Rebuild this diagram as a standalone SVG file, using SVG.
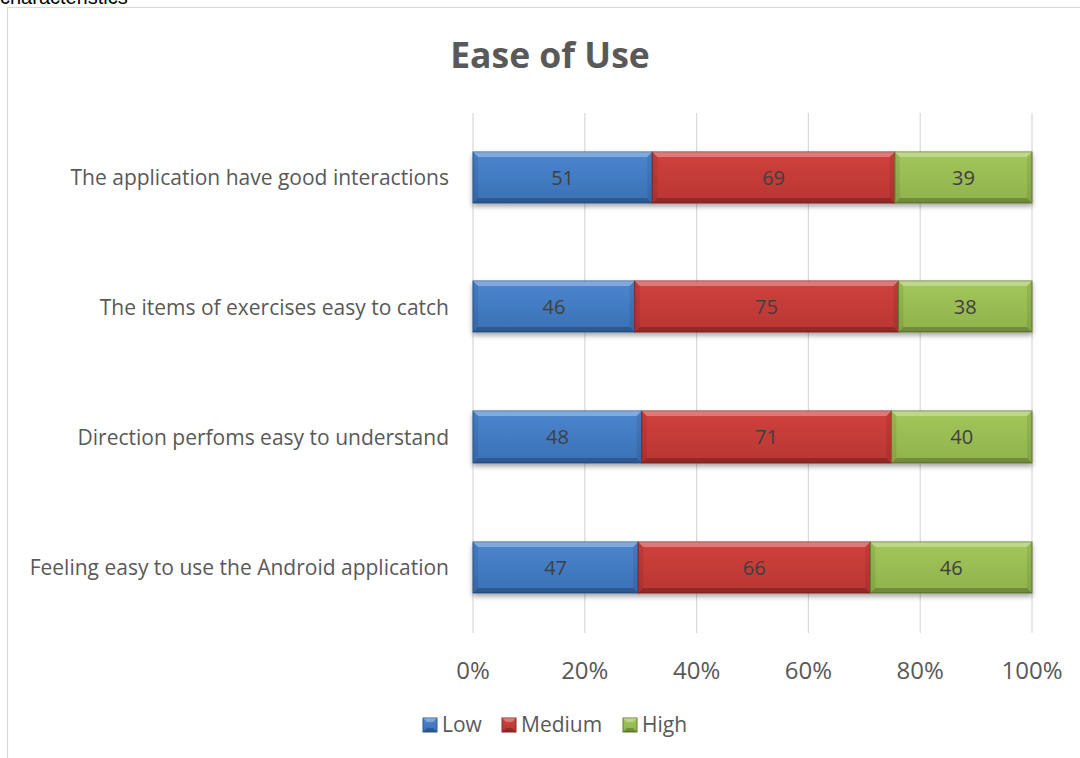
<svg xmlns="http://www.w3.org/2000/svg" width="1080" height="758" viewBox="0 0 1080 758">
  <defs>
    <filter id="shadow" x="-5%" y="-20%" width="110%" height="160%">
      <feDropShadow dx="0" dy="3" stdDeviation="2.5" flood-color="#000" flood-opacity="0.35"/>
    </filter>
    <linearGradient id="gLow" x1="0" y1="0" x2="0" y2="1">
      <stop offset="0" stop-color="#4c86cf"/>
      <stop offset="1" stop-color="#3a70b5"/>
    </linearGradient>
    <linearGradient id="gMed" x1="0" y1="0" x2="0" y2="1">
      <stop offset="0" stop-color="#d0413d"/>
      <stop offset="1" stop-color="#b83633"/>
    </linearGradient>
    <linearGradient id="gHigh" x1="0" y1="0" x2="0" y2="1">
      <stop offset="0" stop-color="#a3c75a"/>
      <stop offset="1" stop-color="#8fb24c"/>
    </linearGradient>
  </defs>
  <style>
    .txt { font-family: "Open Sans", "Liberation Sans", sans-serif; fill: #595959; }
    .title { font-size: 35.5px; font-weight: bold; }
    .cat { font-size: 21px; text-anchor: end; }
    .axis { font-size: 24px; text-anchor: middle; }
    .val { font-size: 20px; text-anchor: middle; fill: #404040; }
    .leg { font-size: 21px; }
    .grid { stroke: #d9d9d9; stroke-width: 1.2; }
    .low { fill: url(#gLow); stroke: #2c5a93; stroke-width: 1; }
    .med { fill: url(#gMed); stroke: #8f2624; stroke-width: 1; }
    .high { fill: url(#gHigh); stroke: #627f2e; stroke-width: 1; }
    .bt { fill: #ffffff; fill-opacity: 0.3; }
    .bb { fill: #000000; fill-opacity: 0.22; }
    .bs { fill: #000000; fill-opacity: 0.08; }
  </style>

  <rect width="1080" height="758" fill="#ffffff"/>
  <text x="0" y="4" font-family="Liberation Sans, Arial, sans-serif" font-size="20" fill="#000000">characteristics</text>
  <rect x="7.5" y="7.5" width="1100" height="800" fill="none" stroke="#d9d9d9" stroke-width="1.2"/>

  <text class="txt title" x="550" y="68" text-anchor="middle">Ease of Use</text>

  <!-- vertical gridlines -->
  <g id="gridlines">
    <line class="grid" x1="473" y1="113" x2="473" y2="633"/>
    <line class="grid" x1="584.8" y1="113" x2="584.8" y2="633"/>
    <line class="grid" x1="696.6" y1="113" x2="696.6" y2="633"/>
    <line class="grid" x1="808.4" y1="113" x2="808.4" y2="633"/>
    <line class="grid" x1="920.2" y1="113" x2="920.2" y2="633"/>
    <line class="grid" x1="1032" y1="113" x2="1032" y2="633"/>
  </g>

  <!-- category labels -->
  <g id="categories">
    <text class="txt cat" x="449" y="185">The application have good interactions</text>
    <text class="txt cat" x="449" y="315">The items of exercises easy to catch</text>
    <text class="txt cat" x="449" y="445">Direction perfoms easy to understand</text>
    <text class="txt cat" x="449" y="575">Feeling easy to use the Android application</text>
  </g>

  <!-- row 1: 51 / 69 / 39 -->
  <g id="row1" filter="url(#shadow)">
    <rect class="low" x="473" y="152" width="179.3" height="51"/>
    <polygon class="bt" points="473,152 652.3,152 647.3,157 478,157"/>
    <polygon class="bb" points="473,203 652.3,203 647.3,198 478,198"/>
    <polygon class="bs" points="473,152 478,157 478,198 473,203"/>
    <polygon class="bs" points="652.3,152 647.3,157 647.3,198 652.3,203"/>
    <rect class="med" x="652.3" y="152" width="242.6" height="51"/>
    <polygon class="bt" points="652.3,152 894.9,152 889.9,157 657.3,157"/>
    <polygon class="bb" points="652.3,203 894.9,203 889.9,198 657.3,198"/>
    <polygon class="bs" points="652.3,152 657.3,157 657.3,198 652.3,203"/>
    <polygon class="bs" points="894.9,152 889.9,157 889.9,198 894.9,203"/>
    <rect class="high" x="894.9" y="152" width="137.1" height="51"/>
    <polygon class="bt" points="894.9,152 1032,152 1027,157 899.9,157"/>
    <polygon class="bb" points="894.9,203 1032,203 1027,198 899.9,198"/>
    <polygon class="bs" points="894.9,152 899.9,157 899.9,198 894.9,203"/>
    <polygon class="bs" points="1032,152 1027,157 1027,198 1032,203"/>
  </g>
  <g id="row1-values">
    <text class="txt val" x="562.6" y="185">51</text>
    <text class="txt val" x="773.6" y="185">69</text>
    <text class="txt val" x="963.5" y="185">39</text>
  </g>

  <!-- row 2: 46 / 75 / 38 -->
  <g id="row2" filter="url(#shadow)">
    <rect class="low" x="473" y="281" width="161.7" height="51"/>
    <polygon class="bt" points="473,281 634.7,281 629.7,286 478,286"/>
    <polygon class="bb" points="473,332 634.7,332 629.7,327 478,327"/>
    <polygon class="bs" points="473,281 478,286 478,327 473,332"/>
    <polygon class="bs" points="634.7,281 629.7,286 629.7,327 634.7,332"/>
    <rect class="med" x="634.7" y="281" width="263.7" height="51"/>
    <polygon class="bt" points="634.7,281 898.4,281 893.4,286 639.7,286"/>
    <polygon class="bb" points="634.7,332 898.4,332 893.4,327 639.7,327"/>
    <polygon class="bs" points="634.7,281 639.7,286 639.7,327 634.7,332"/>
    <polygon class="bs" points="898.4,281 893.4,286 893.4,327 898.4,332"/>
    <rect class="high" x="898.4" y="281" width="133.6" height="51"/>
    <polygon class="bt" points="898.4,281 1032,281 1027,286 903.4,286"/>
    <polygon class="bb" points="898.4,332 1032,332 1027,327 903.4,327"/>
    <polygon class="bs" points="898.4,281 903.4,286 903.4,327 898.4,332"/>
    <polygon class="bs" points="1032,281 1027,286 1027,327 1032,332"/>
  </g>
  <g id="row2-values">
    <text class="txt val" x="553.9" y="314">46</text>
    <text class="txt val" x="766.5" y="314">75</text>
    <text class="txt val" x="965.2" y="314">38</text>
  </g>

  <!-- row 3: 48 / 71 / 40 -->
  <g id="row3" filter="url(#shadow)">
    <rect class="low" x="473" y="411" width="168.7" height="52"/>
    <polygon class="bt" points="473,411 641.7,411 636.7,416 478,416"/>
    <polygon class="bb" points="473,463 641.7,463 636.7,458 478,458"/>
    <polygon class="bs" points="473,411 478,416 478,458 473,463"/>
    <polygon class="bs" points="641.7,411 636.7,416 636.7,458 641.7,463"/>
    <rect class="med" x="641.7" y="411" width="249.7" height="52"/>
    <polygon class="bt" points="641.7,411 891.4,411 886.4,416 646.7,416"/>
    <polygon class="bb" points="641.7,463 891.4,463 886.4,458 646.7,458"/>
    <polygon class="bs" points="641.7,411 646.7,416 646.7,458 641.7,463"/>
    <polygon class="bs" points="891.4,411 886.4,416 886.4,458 891.4,463"/>
    <rect class="high" x="891.4" y="411" width="140.6" height="52"/>
    <polygon class="bt" points="891.4,411 1032,411 1027,416 896.4,416"/>
    <polygon class="bb" points="891.4,463 1032,463 1027,458 896.4,458"/>
    <polygon class="bs" points="891.4,411 896.4,416 896.4,458 891.4,463"/>
    <polygon class="bs" points="1032,411 1027,416 1027,458 1032,463"/>
  </g>
  <g id="row3-values">
    <text class="txt val" x="557.4" y="444">48</text>
    <text class="txt val" x="766.5" y="444">71</text>
    <text class="txt val" x="961.7" y="444">40</text>
  </g>

  <!-- row 4: 47 / 66 / 46 -->
  <g id="row4" filter="url(#shadow)">
    <rect class="low" x="473" y="542" width="165.2" height="51"/>
    <polygon class="bt" points="473,542 638.2,542 633.2,547 478,547"/>
    <polygon class="bb" points="473,593 638.2,593 633.2,588 478,588"/>
    <polygon class="bs" points="473,542 478,547 478,588 473,593"/>
    <polygon class="bs" points="638.2,542 633.2,547 633.2,588 638.2,593"/>
    <rect class="med" x="638.2" y="542" width="232.1" height="51"/>
    <polygon class="bt" points="638.2,542 870.3,542 865.3,547 643.2,547"/>
    <polygon class="bb" points="638.2,593 870.3,593 865.3,588 643.2,588"/>
    <polygon class="bs" points="638.2,542 643.2,547 643.2,588 638.2,593"/>
    <polygon class="bs" points="870.3,542 865.3,547 865.3,588 870.3,593"/>
    <rect class="high" x="870.3" y="542" width="161.7" height="51"/>
    <polygon class="bt" points="870.3,542 1032,542 1027,547 875.3,547"/>
    <polygon class="bb" points="870.3,593 1032,593 1027,588 875.3,588"/>
    <polygon class="bs" points="870.3,542 875.3,547 875.3,588 870.3,593"/>
    <polygon class="bs" points="1032,542 1027,547 1027,588 1032,593"/>
  </g>
  <g id="row4-values">
    <text class="txt val" x="555.6" y="575">47</text>
    <text class="txt val" x="754.3" y="575">66</text>
    <text class="txt val" x="951.2" y="575">46</text>
  </g>

  <!-- horizontal axis -->
  <g id="axis-labels">
    <text class="txt axis" x="473" y="679">0%</text>
    <text class="txt axis" x="584.8" y="679">20%</text>
    <text class="txt axis" x="696.6" y="679">40%</text>
    <text class="txt axis" x="808.4" y="679">60%</text>
    <text class="txt axis" x="920.2" y="679">80%</text>
    <text class="txt axis" x="1032" y="679">100%</text>
  </g>

  <!-- legend -->
  <g id="legend">
    <g id="legend-low">
      <rect class="low" x="423" y="718" width="14" height="14"/>
      <polygon class="bt" points="423,718 437,718 433,722 427,722"/>
      <polygon class="bb" points="423,732 437,732 433,728 427,728"/>
      <text class="txt leg" x="442" y="732">Low</text>
    </g>
    <g id="legend-medium">
      <rect class="med" x="502" y="718" width="14" height="14"/>
      <polygon class="bt" points="502,718 516,718 512,722 506,722"/>
      <polygon class="bb" points="502,732 516,732 512,728 506,728"/>
      <text class="txt leg" x="521" y="732">Medium</text>
    </g>
    <g id="legend-high">
      <rect class="high" x="623" y="718" width="14" height="14"/>
      <polygon class="bt" points="623,718 637,718 633,722 627,722"/>
      <polygon class="bb" points="623,732 637,732 633,728 627,728"/>
      <text class="txt leg" x="642" y="732">High</text>
    </g>
  </g>
</svg>
